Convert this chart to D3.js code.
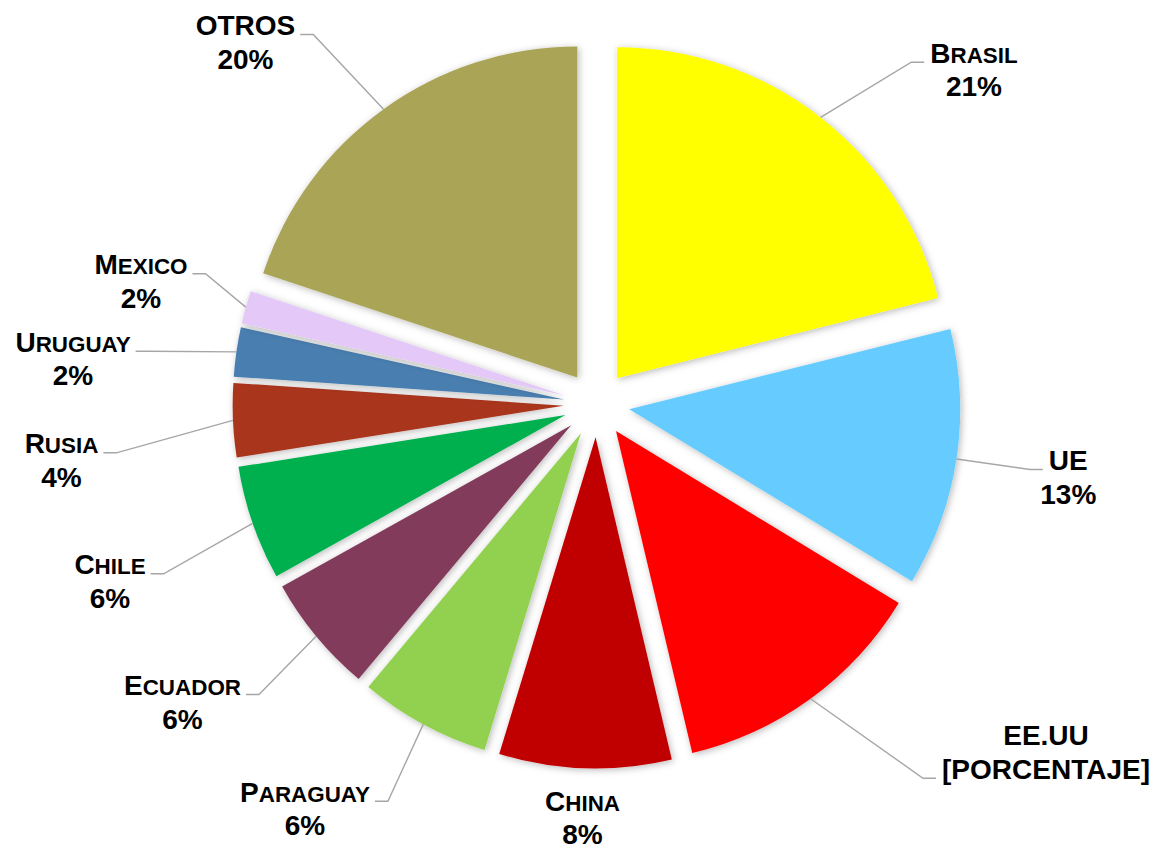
<!DOCTYPE html>
<html><head><meta charset="utf-8">
<script src="https://cdn.jsdelivr.net/npm/d3@7/dist/d3.min.js"></script>
<style>
html,body{margin:0;padding:0;background:#fff;}
svg{display:block;}
.lbl{font-family:"Liberation Sans",Arial,sans-serif;font-weight:bold;font-size:28px;fill:#000;}
</style></head><body>
<svg id="chart" width="1160" height="849"></svg>
<script>
// ---- data ----
const categories = ["Brasil","UE","EE.UU","China","Paraguay","Ecuador","Chile","Rusia","Uruguay","Mexico","OTROS"];
const values = [21.1,12.6,12.6,8.4,6.4,5.8,5.6,3.6,2.4,1.6,19.9];
const valueLabels = ["21%","13%","[PORCENTAJE]","8%","6%","6%","6%","4%","2%","2%","20%"];
const colors = ["#FFFF00","#66CCFF","#FF0000","#C00000","#92D050","#833A5C","#00B050","#A9341A","#4A7EB0","#E4C8F8","#AAA456"];

// ---- layout ----
const cx = 596.6, cy = 404.3, R = 331, explode = 33, lineGap = 33.7;
const fontSize = 28, smallCapScale = 0.8;
const labelLayout = [
  {x:974,   y:62.7,  attach:0},
  {x:1068.3,y:470,   attach:0},
  {x:1046,  y:745,   attach:1},
  {x:582.5, y:810.5, attach:null},
  {x:305,   y:801.7, attach:0},
  {x:182.5, y:695,   attach:0},
  {x:110,   y:574.3, attach:0},
  {x:61.5,  y:453.3, attach:0},
  {x:73,    y:351.7, attach:0},
  {x:141,   y:274.3, attach:0},
  {x:245.5, y:35,    attach:0}
];

const svg = d3.select("#chart");
const defs = svg.append("defs");
const f = defs.append("filter").attr("id","sh").attr("x","-30%").attr("y","-30%").attr("width","160%").attr("height","160%");
f.append("feDropShadow").attr("dx",1.5).attr("dy",1.5).attr("stdDeviation",3.5)
  .attr("flood-color","#000").attr("flood-opacity",0.28);

const pie = d3.pie().sort(null).value(d => d);
const arcs = pie(values);
const arc = d3.arc().innerRadius(0).outerRadius(R);

const mid = d => (d.startAngle + d.endAngle) / 2;

svg.append("g").selectAll("path").data(arcs).join("path")
  .attr("d", arc)
  .attr("fill", (d,i) => colors[i])
  .attr("filter","url(#sh)")
  .attr("transform", d => `translate(${cx + explode*Math.sin(mid(d))},${cy - explode*Math.cos(mid(d))})`);

const lineG = svg.append("g");
const textG = svg.append("g");

arcs.forEach((d,i) => {
  const L = labelLayout[i];
  const name = categories[i];
  const t = textG.append("text").attr("class","lbl").attr("text-anchor","middle");
  const line1 = [];
  if (/[a-z]/.test(name)) {
    line1.push(t.append("tspan").attr("x", L.x).attr("y", L.y).text(name[0].toUpperCase()));
    line1.push(t.append("tspan").attr("font-size", fontSize*smallCapScale).text(name.slice(1).toUpperCase()));
  } else {
    line1.push(t.append("tspan").attr("x", L.x).attr("y", L.y).text(name));
  }
  const t2 = t.append("tspan").attr("x", L.x).attr("y", L.y + lineGap).text(valueLabels[i]);
  if (L.attach === null) return;
  const w = L.attach === 0 ? d3.sum(line1, s => s.node().getComputedTextLength()) : t2.node().getComputedTextLength();
  const ly = L.y + L.attach*lineGap - 0.5;
  const a = mid(d);
  const px = cx + (explode + R) * Math.sin(a);
  const py = cy - (explode + R) * Math.cos(a);
  let endX, elbowX;
  if (L.x > px) { endX = L.x - w/2 - 6; elbowX = endX - 13; }
  else { endX = L.x + w/2 + 5; elbowX = endX + 13; }
  lineG.append("polyline")
    .attr("points", `${px},${py} ${elbowX},${ly} ${endX},${ly}`)
    .attr("fill","none").attr("stroke","#A6A6A6").attr("stroke-width",1.4);
});
</script>
</body></html>
